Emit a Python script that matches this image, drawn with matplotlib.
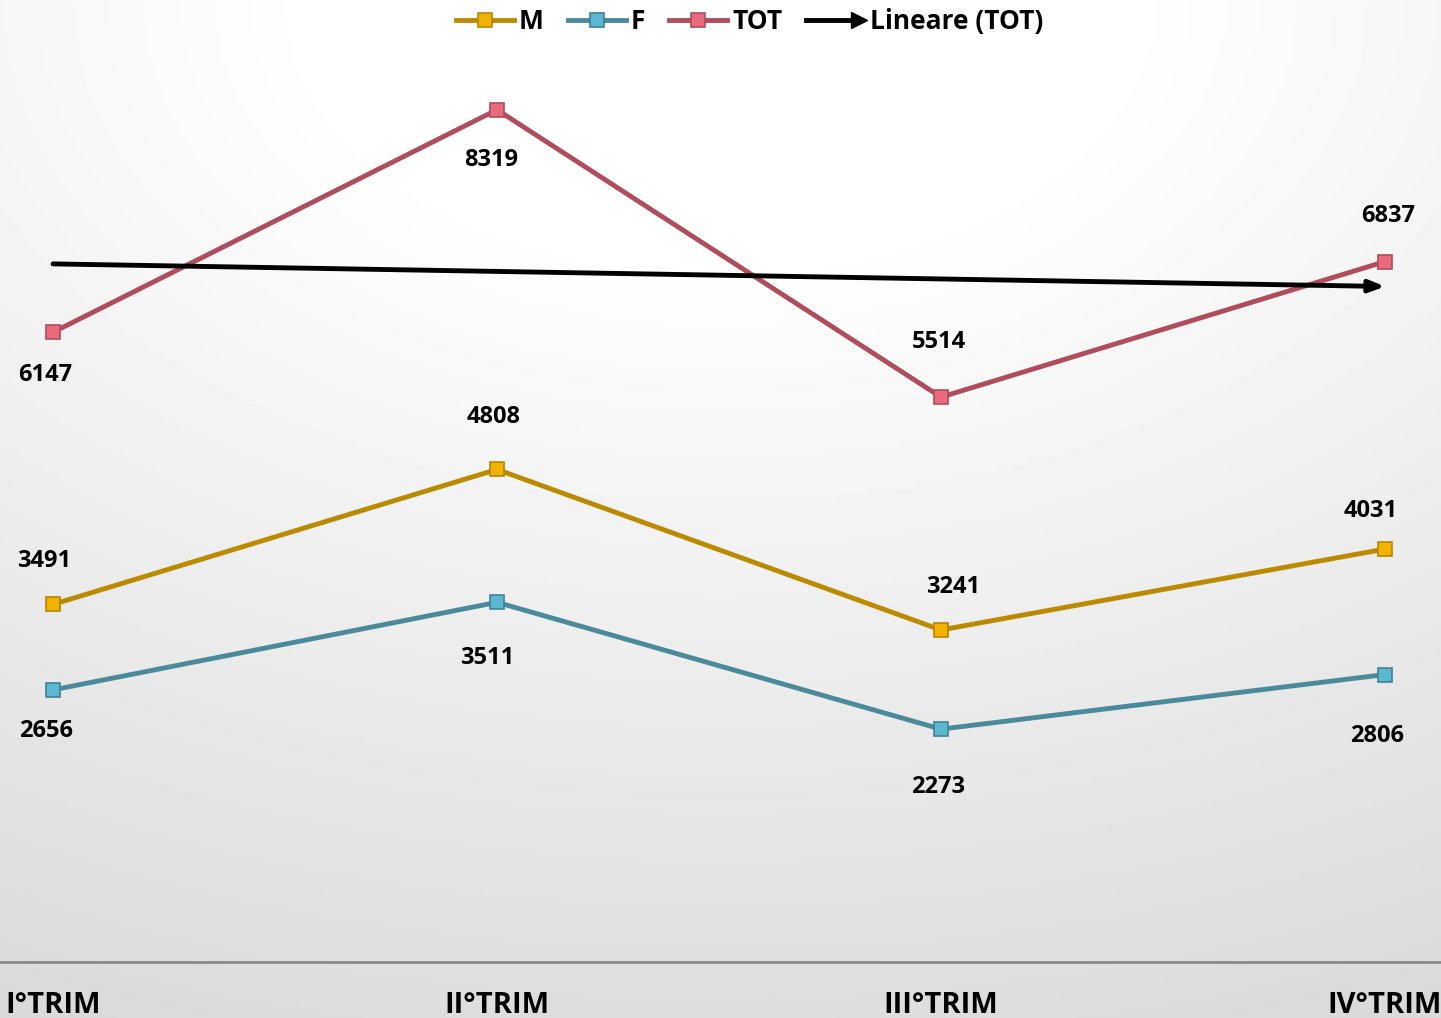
import numpy as np
import matplotlib
matplotlib.use("Agg")
import matplotlib.pyplot as plt
from matplotlib.lines import Line2D
from matplotlib.legend_handler import HandlerBase

# data
categories = ["I°TRIM", "II°TRIM", "III°TRIM", "IV°TRIM"]
m_values = [3491, 4808, 3241, 4031]
f_values = [2656, 3511, 2273, 2806]
tot_values = [6147, 8319, 5514, 6837]

# label offsets from the point, pixels (dx, dy; dy positive = up)
m_off = [(-9, 43), (-3, 52), (12, 43), (-14, 38)]
f_off = [(-7, -41), (-10, -56), (-3, -58), (-8, -61)]
tot_off = [(-8, -43), (-6, -50), (-2, 55), (3, 46)]

plt.rcParams['font.family'] = ['Open Sans', 'DejaVu Sans']

fig = plt.figure(figsize=(14.41, 10.18), dpi=100)

# background gradient (white at top, light gray at the bottom)
bg = fig.add_axes([0, 0, 1, 1], zorder=-10)
yy, xx = np.mgrid[0:1:300j, 0:1:400j]
r = np.sqrt(((xx - 0.5) * 0.9) ** 2 + (yy * 1.0) ** 2)
shade = 1.0 - 0.15 * np.clip(r - 0.25, 0, None) / 0.85
bg.imshow(shade, cmap="gray", vmin=0, vmax=1, aspect="auto",
          extent=[0, 1, 0, 1], origin="upper")
bg.axis("off")

ax = fig.add_axes([0, 56 / 1018, 1, (962 - 40) / 1018])
ax.set_facecolor("none")
x = np.arange(len(categories))

series = [
    ("M", m_values, m_off, "#BC8A00", "#F2B300", "#B68600"),
    ("F", f_values, f_off, "#4A8A9A", "#5CB8D0", "#3F8397"),
    ("TOT", tot_values, tot_off, "#B04C5C", "#E86A7C", "#B04C5C"),
]

px = 0.72  # points per pixel at dpi 100

handles = []
for name, vals, offs, lc, mfc, mec in series:
    ax.plot(x, vals, color=lc, lw=3.5, marker="s", markersize=10,
            markerfacecolor=mfc, markeredgecolor=mec, markeredgewidth=1.2,
            zorder=3)
    handles.append(Line2D([], [], color=lc, lw=3.5, marker="s", markersize=10,
                          markerfacecolor=mfc, markeredgecolor=mec,
                          markeredgewidth=1.2, label=name))
    for xi, v, (dx, dy) in zip(x, vals, offs):
        ax.annotate(str(v), (xi, v), xytext=(dx * px, dy * px),
                    textcoords="offset points", ha="center", va="center",
                    fontsize=17, fontweight="bold", color="black")

# linear trend of TOT
coef = np.polyfit(x, tot_values, 1)
trend = np.polyval(coef, x)
ax.annotate("", xy=(x[-1], trend[-1]), xytext=(x[0], trend[0]),
            arrowprops=dict(arrowstyle="-|>,head_length=0.9,head_width=0.35",
                            color="black", lw=3.5, shrinkA=0, shrinkB=0),
            zorder=4)


class ArrowHandler(HandlerBase):
    def create_artists(self, legend, orig, xd, yd, width, height, fontsize, trans):
        y = height / 2 - yd
        line = Line2D([-xd, width - xd - 6], [y, y], color="black", lw=3.5,
                      transform=trans)
        head = Line2D([width - xd - 4], [y], marker=">", markersize=11,
                      color="black", transform=trans)
        return [line, head]


trend_handle = Line2D([], [], color="black", label="Lineare (TOT)")
handles.append(trend_handle)

ax.set_xlim(-53 / 444, 3 + 56 / 444)
ax.set_ylim(0, 9000)
ax.set_yticks([])
ax.set_xticks(x)
ax.set_xticklabels(categories, fontsize=21, fontweight="bold")
ax.tick_params(axis="x", length=0, pad=21)
for sp in ["top", "left", "right"]:
    ax.spines[sp].set_visible(False)
ax.spines["bottom"].set_color("#8A8A8A")
ax.spines["bottom"].set_linewidth(2)

fig.legend(handles=handles, loc="upper center", bbox_to_anchor=(0.52, 1.015),
           ncol=4, frameon=False, handlelength=2.2,
           handletextpad=0.2, columnspacing=0.9,
           handler_map={trend_handle: ArrowHandler()},
           prop={"weight": "bold", "size": 19})

fig.savefig("out.png", dpi=100)
